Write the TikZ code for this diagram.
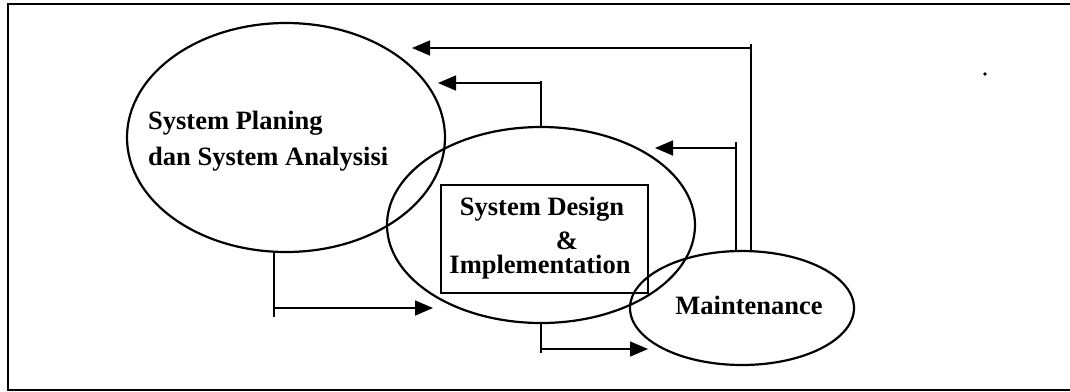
\documentclass[tikz,border=0pt]{standalone}
\usepackage{fontspec}
\setmainfont{Liberation Serif}
\usetikzlibrary{shapes.geometric,arrows.meta}
\begin{document}
\begin{tikzpicture}[x=1pt,y=-1pt,
  bubble/.style={draw, ellipse, line width=2.2pt, inner sep=0pt},
  txt/.style={font=\fontsize{26.5}{30}\selectfont\bfseries, inner sep=0pt},
  link/.style={line width=1.6pt},
  flow/.style={line width=1.6pt, -{Triangle[length=18pt,width=15pt]}}]
\useasboundingbox (0,0) rectangle (1070,391);
% outer frame (open on the right)
\draw[line width=1.5pt] (1070,4) -- (8,4) -- (8,390) -- (1070,390);

% phases
\node[bubble, minimum width=318pt, minimum height=229pt] (plan) at (286,137.5) {};
\node[bubble, minimum width=308pt, minimum height=196pt] (design) at (541,225) {};
\node[bubble, minimum width=224pt, minimum height=114pt] (maint) at (742,308) {};
\node[draw, line width=1.5pt, minimum width=207pt, minimum height=108pt] (box) at (544.5,239) {};

% labels
\node[txt, anchor=base west] (pl1) at (148,129) {System Planing};
\node[txt, anchor=base west] (pl2) at (148,165) {dan System Analysisi};
\node[txt, anchor=base] (ds1) at (542,215) {System Design};
\node[txt, anchor=base, text depth=0pt] (ds2) at (567,249) {\&};
\node[txt, anchor=base] (ds3) at (540,273) {Implementation};
\node[txt, anchor=base] (mt) at (749,314) {Maintenance};

% arrow tips
\coordinate (tipA) at (412,48);
\coordinate (tipB) at (438,83);
\coordinate (tipC) at (655,148);
\coordinate (tipD) at (433,308);
\coordinate (tipE) at (648,349);

% maintenance back to planning
\draw[link] (maint.81) -- ++(0,-206);
\draw[flow] (maint.81 |- tipA) -- (tipA);
% design back to planning
\draw[link] (design.north) -- ++(0,-45);
\draw[flow] (design.north |- tipB) -- (tipB);
% maintenance back to design
\draw[link] (maint.96) -- ++(0,-108);
\draw[flow] (maint.96 |- tipC) -- (tipC);
% planning forward to design
\draw[link] (plan.264.5) -- ++(0,64);
\draw[flow] (plan.264.5 |- tipD) -- (tipD);
% design forward to maintenance
\draw[link] (design.south) -- ++(0,29);
\draw[flow] (design.south |- tipE) -- (tipE);

% speck
\fill (985,74) circle (1.8pt);
\end{tikzpicture}
\end{document}
